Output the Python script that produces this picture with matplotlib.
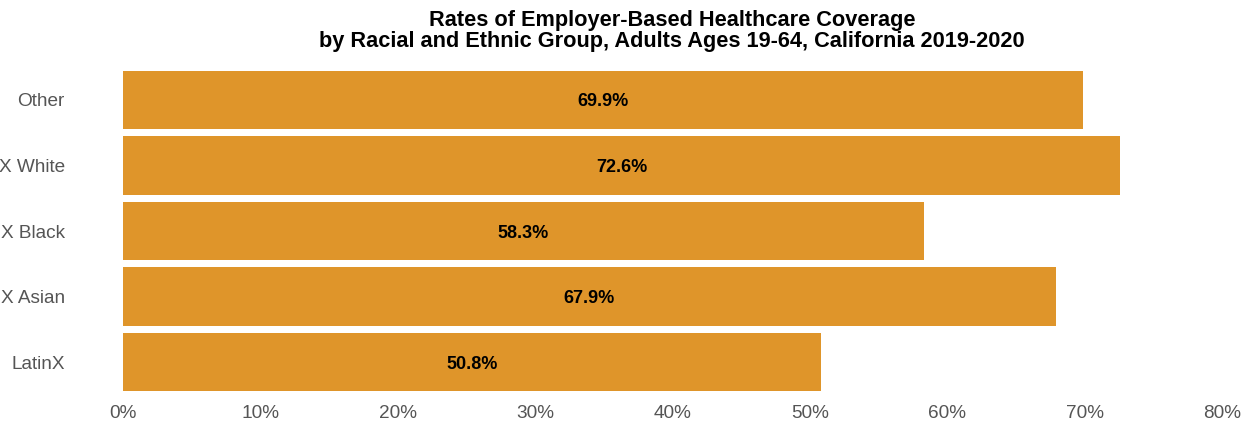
import matplotlib
matplotlib.use("Agg")
import matplotlib.pyplot as plt
from matplotlib.ticker import FuncFormatter

categories = ["LatinX", "Non-LatinX Asian", "Non-LatinX Black", "Non-LatinX White", "Other"]
values = [50.8, 67.9, 58.3, 72.6, 69.9]
xticks = [0, 10, 20, 30, 40, 50, 60, 70, 80]

plt.rcParams['font.family'] = ['Liberation Sans', 'DejaVu Sans']

fig = plt.figure(figsize=(12.57, 4.33), dpi=100)
ax = fig.add_axes([123/1257, 1-395/433, (1222-123)/1257, (395-67)/433])

ypos = list(range(len(categories)))
ax.barh(ypos, values, height=0.89, color="#DF952A")
for y, v in zip(ypos, values):
    ax.text(v/2, y, f"{v:.1f}%", ha="center", va="center_baseline", fontsize=13, fontweight="bold", color="black")

ax.set_xlim(0, 80)
ax.set_ylim(-0.5, len(categories)-0.5)
ax.set_xticks(xticks)
ax.xaxis.set_major_formatter(FuncFormatter(lambda x, p: f"{x:.0f}%"))
ax.set_yticks(ypos)
ax.set_yticklabels(categories)
ax.tick_params(axis="both", length=0, labelsize=13.7, colors="#555555")
ax.tick_params(axis="y", pad=42)
ax.tick_params(axis="x", pad=7)
for s in ax.spines.values():
    s.set_visible(False)

fig.suptitle("Rates of Employer-Based Healthcare Coverage\nby Racial and Ethnic Group, Adults Ages 19-64, California 2019-2020",
             x=672/1257, y=0.978, fontsize=15.7, fontweight="bold", linespacing=1.0)

fig.savefig("out.png", dpi=100)
